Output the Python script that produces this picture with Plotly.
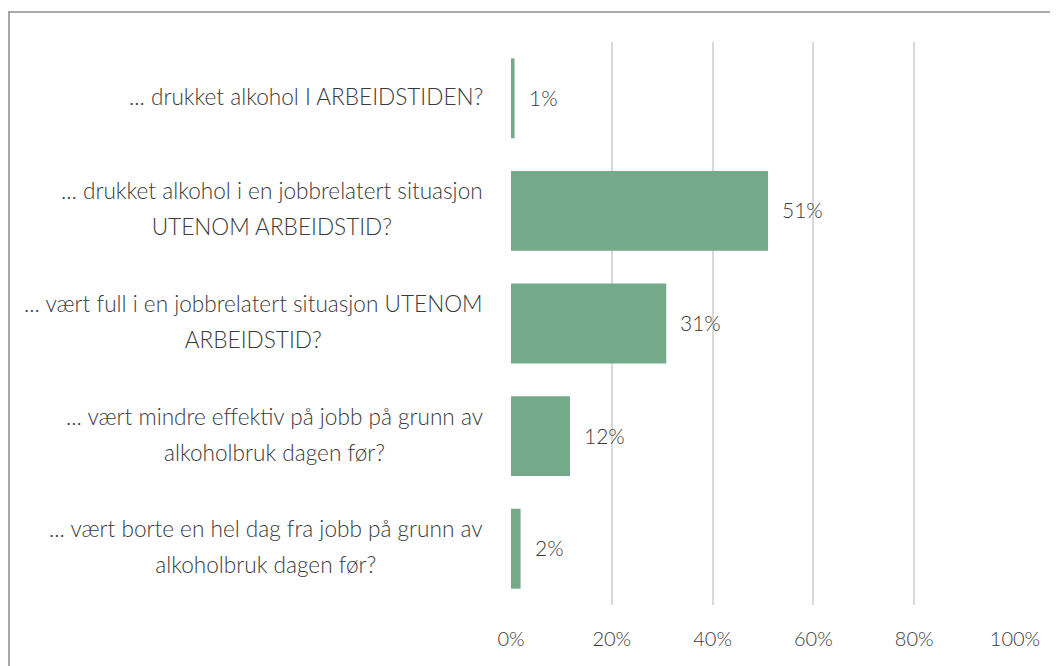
import plotly.graph_objects as go

categories = [
    "... drukket alkohol I ARBEIDSTIDEN?",
    "... drukket alkohol i en jobbrelatert situasjon<br>UTENOM ARBEIDSTID?",
    "... vært full i en jobbrelatert situasjon UTENOM<br>ARBEIDSTID?",
    "... vært mindre effektiv på jobb på grunn av<br>alkoholbruk dagen før?",
    "... vært borte en hel dag fra jobb på grunn av<br>alkoholbruk dagen før?",
]
values = [0.7, 51.0, 30.8, 11.7, 1.9]
value_labels = ["1%", "51%", "31%", "12%", "2%"]
tick_vals = [0, 20, 40, 60, 80, 100]
tick_text = ["0%", "20%", "40%", "60%", "80%", "100%"]

# page has an 8px body margin, so figure coordinates are screen - 8
OFF = 8
W, H = 1058, 666
L, R = 511 - OFF, 1058 - (1015 - OFF)
T, B = 42 - OFF, 666 - (605 - OFF)
pw, ph = W - L - R, H - T - B

FONT = "Lato Light, Lato, Open Sans"
TXT = "#3A3A3A"
BAR = "#74AA8A"

ids = list(range(len(categories)))

fig = go.Figure(go.Bar(
    x=values, y=ids, orientation="h",
    marker=dict(color=BAR, line=dict(width=0)),
    hoverinfo="skip",
))

annotations = []
for i, (c, v, t) in enumerate(zip(categories, values, value_labels)):
    annotations.append(dict(
        x=v, y=i, xref="x", yref="y", text=t, showarrow=False,
        xanchor="left", yanchor="middle", xshift=12, yshift=1,
        font=dict(family=FONT, size=21, color=TXT, weight=300),
    ))
    lines = c.split("<br>")
    txt = "<br> <br>".join(f"<span style='font-size:22.6px'>{ln}</span>" for ln in lines)
    annotations.append(dict(
        x=(485 - OFF - L) / pw, y=i, xref="paper", yref="y", text=txt, showarrow=False,
        xanchor="right", yanchor="middle", align="center", yshift=2,
        font=dict(family=FONT, size=14, color=TXT, weight=300),
    ))

fig.update_layout(
    width=W, height=H,
    margin=dict(l=L, r=R, t=T, b=B),
    paper_bgcolor="white", plot_bgcolor="white",
    bargap=0.29,
    showlegend=False,
    xaxis=dict(
        range=[0, 100], tickvals=tick_vals, ticktext=tick_text,
        showgrid=True, gridcolor="#D9D9D9", gridwidth=2,
        zeroline=False, showline=False, ticks="",
        ticklabelstandoff=20,
        tickfont=dict(family=FONT, size=20, color=TXT, weight=300),
        fixedrange=True,
    ),
    yaxis=dict(
        range=[len(categories) - 0.5, -0.5],
        showticklabels=False, showgrid=False, zeroline=False, showline=False,
        fixedrange=True,
    ),
    annotations=annotations,
    shapes=[
        dict(type="line", xref="paper", yref="paper",
             x0=(8 - OFF - L) / pw, x1=(1070 - OFF - L) / pw,
             y0=(H - B - (12 - OFF)) / ph, y1=(H - B - (12 - OFF)) / ph,
             line=dict(color="#8C8C8C", width=1.5)),
        dict(type="line", xref="paper", yref="paper",
             x0=(9 - OFF - L) / pw, x1=(9 - OFF - L) / pw,
             y0=(H - B - (12 - OFF)) / ph, y1=(H - B - 680) / ph,
             line=dict(color="#8C8C8C", width=1.5)),
    ],
)

fig.write_html("out.html")
